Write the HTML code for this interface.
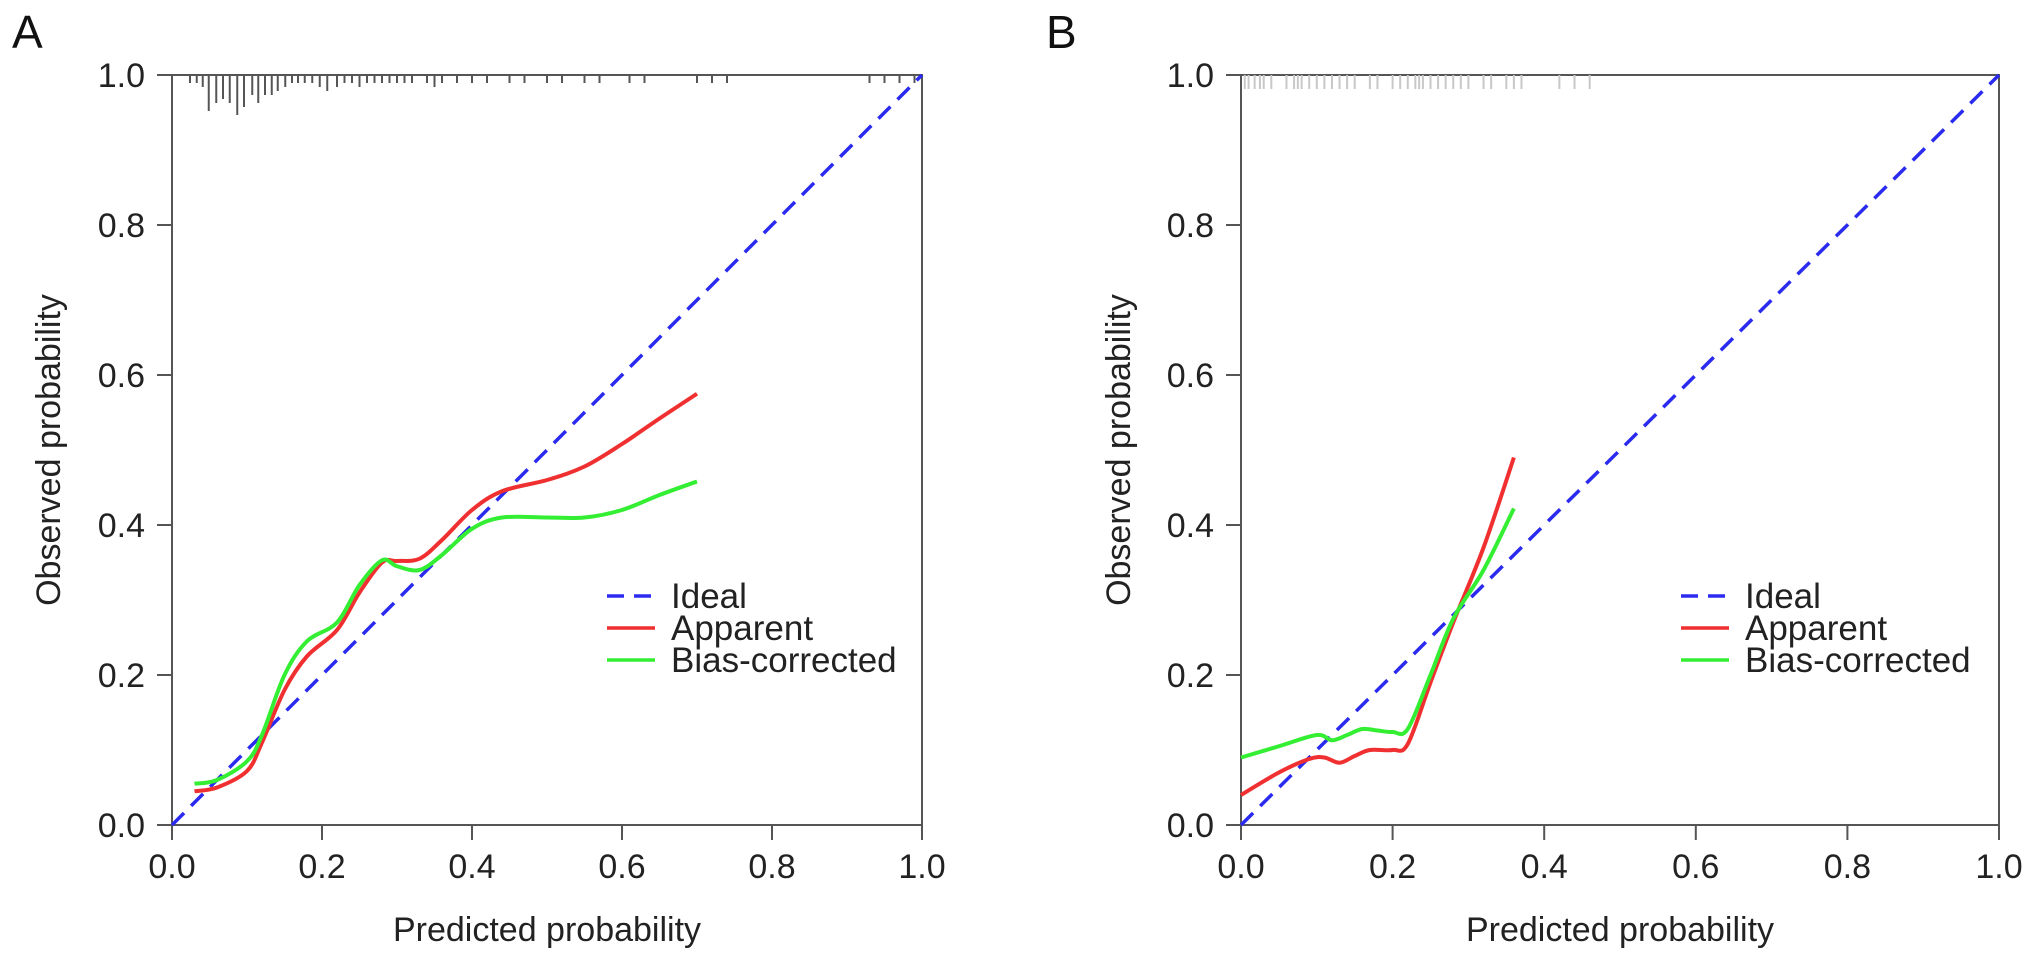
<!DOCTYPE html>
<html><head><meta charset="utf-8"><style>
html,body{margin:0;padding:0;background:#fff;}
svg{display:block;font-family:"Liberation Sans",Arial,sans-serif;}
</style></head><body>
<svg id="chart" width="2032" height="961" viewBox="0 0 2032 961" xmlns="http://www.w3.org/2000/svg"></svg>
<script>
// ---- data ----
const ticks = [0, 0.2, 0.4, 0.6, 0.8, 1.0];
const tickLabels = ["0.0", "0.2", "0.4", "0.6", "0.8", "1.0"];
const aApparentX = [0.03,0.06,0.1,0.12,0.15,0.18,0.22,0.25,0.28,0.3,0.33,0.36,0.4,0.44,0.5,0.55,0.6,0.65,0.7];
const aApparentY = [0.045,0.05,0.072,0.11,0.18,0.225,0.26,0.31,0.35,0.352,0.355,0.38,0.42,0.445,0.46,0.478,0.508,0.542,0.575];
const aBiasX = [0.03,0.06,0.1,0.12,0.15,0.18,0.22,0.25,0.28,0.3,0.33,0.36,0.4,0.44,0.5,0.55,0.6,0.65,0.7];
const aBiasY = [0.055,0.06,0.085,0.12,0.2,0.245,0.27,0.32,0.353,0.345,0.34,0.36,0.395,0.41,0.41,0.41,0.42,0.44,0.458];
const bApparentX = [0,0.05,0.09,0.11,0.13,0.15,0.17,0.2,0.22,0.25,0.28,0.32,0.36];
const bApparentY = [0.04,0.07,0.088,0.09,0.083,0.092,0.1,0.1,0.108,0.19,0.27,0.37,0.49];
const bBiasX = [0,0.05,0.1,0.12,0.14,0.16,0.18,0.2,0.22,0.25,0.28,0.32,0.36];
const bBiasY = [0.09,0.105,0.12,0.113,0.12,0.128,0.126,0.124,0.128,0.2,0.275,0.34,0.422];
const aRugX = [0.024,0.033,0.041,0.049,0.059,0.068,0.077,0.087,0.096,0.107,0.115,0.124,0.133,0.141,0.151,0.16,0.168,0.177,0.187,0.197,0.207,0.22,0.23,0.24,0.25,0.26,0.27,0.28,0.29,0.3,0.31,0.32,0.34,0.35,0.36,0.38,0.4,0.42,0.45,0.47,0.5,0.52,0.55,0.57,0.61,0.63,0.7,0.72,0.74,0.93,0.95,0.97,0.99];
const aRugN = [1,1,2,8,6,5,6,9,7,4,6,4,4,3,2,1,1,1,1,2,3,2,1,1,2,1,1,1,1,1,1,1,1,2,1,1,1,1,1,1,1,1,1,1,1,1,1,1,1,1,1,1,1];
const bRugX = [0.005,0.01,0.018,0.025,0.03,0.04,0.06,0.07,0.075,0.08,0.09,0.1,0.11,0.12,0.13,0.14,0.15,0.17,0.18,0.2,0.21,0.22,0.23,0.235,0.24,0.25,0.26,0.27,0.28,0.29,0.3,0.32,0.33,0.35,0.36,0.37,0.42,0.44,0.46];

const NS = "http://www.w3.org/2000/svg";
const svg = document.getElementById("chart");
function mk(tag, attrs, parent) {
  const e = document.createElementNS(NS, tag);
  for (const k in attrs) e.setAttribute(k, attrs[k]);
  (parent || svg).appendChild(e);
  return e;
}
function smoothPath(xs, ys, sx, sy) {
  const p = xs.map((x, i) => [sx(x), sy(ys[i])]);
  let d = "M" + p[0][0] + "," + p[0][1];
  for (let i = 0; i < p.length - 1; i++) {
    const p0 = p[i - 1] || p[i], p1 = p[i], p2 = p[i + 1], p3 = p[i + 2] || p2;
    const c1x = p1[0] + (p2[0] - p0[0]) / 6, c1y = p1[1] + (p2[1] - p0[1]) / 6;
    const c2x = p2[0] - (p3[0] - p1[0]) / 6, c2y = p2[1] - (p3[1] - p1[1]) / 6;
    d += " C" + c1x + "," + c1y + " " + c2x + "," + c2y + " " + p2[0] + "," + p2[1];
  }
  return d;
}

function panel(cfg) {
  const g = mk("g", {});
  
  
  const sx = v => cfg.x0 + v * (cfg.x1 - cfg.x0);
  const sy = v => cfg.y0 - v * (cfg.y0 - cfg.y1);
  const box = mk("rect", {x: cfg.x0, y: cfg.y1, width: cfg.x1 - cfg.x0, height: cfg.y0 - cfg.y1, fill: "none", stroke: "#555", "stroke-width": 2}, g);
  
  
  ticks.forEach((t, i) => {
    const xt = mk("line", {x1: sx(t), x2: sx(t), y1: cfg.y0, y2: cfg.y0 + 15, stroke: "#555", "stroke-width": 2}, g);
    
    
    const xl = mk("text", {x: sx(t), y: cfg.y0 + 53, "text-anchor": "middle", "font-size": 34, fill: "#222"}, g);
    xl.textContent = tickLabels[i];
    
    
    const yt = mk("line", {x1: cfg.x0 - 15, x2: cfg.x0, y1: sy(t), y2: sy(t), stroke: "#555", "stroke-width": 2}, g);
    
    
    const yl = mk("text", {x: cfg.x0 - 27, y: sy(t) + 12, "text-anchor": "end", "font-size": 34, fill: "#222"}, g);
    yl.textContent = tickLabels[i];
    
    
  });
  const xt = mk("text", {x: (cfg.x0 + cfg.x1) / 2, y: 941, "text-anchor": "middle", "font-size": 34, fill: "#222"}, g);
  xt.textContent = "Predicted probability";
  
  
  const cy = (cfg.y0 + cfg.y1) / 2;
  const yt = mk("text", {x: cfg.ytx, y: cy, "text-anchor": "middle", "font-size": 34, fill: "#222", transform: "rotate(-90 " + cfg.ytx + " " + cy + ")"}, g);
  yt.textContent = "Observed probability";
  
  
  const lt = mk("text", {x: cfg.letterX, y: 48, "font-size": 46, fill: "#111"}, g);
  lt.textContent = cfg.letter;
  
  
  cfg.rugX.forEach((v, i) => {
    const len = cfg.rugN ? 4 + cfg.rugN[i] * 4 : 14;
    const r = mk("line", {x1: sx(v), x2: sx(v), y1: cfg.y1, y2: cfg.y1 + len, stroke: cfg.rugColor, "stroke-width": 2}, g);
    
    
  });
  const id = mk("line", {x1: sx(0), y1: sy(0), x2: sx(1), y2: sy(1), stroke: "#2b2bf0", "stroke-width": 3.5, "stroke-dasharray": "17 10"}, g);
  
  
  const ap = mk("path", {d: smoothPath(cfg.apX, cfg.apY, sx, sy), fill: "none", stroke: "#f03030", "stroke-width": 4}, g);
  
  
  const bc = mk("path", {d: smoothPath(cfg.bcX, cfg.bcY, sx, sy), fill: "none", stroke: "#33ee33", "stroke-width": 4}, g);
  
  
  const lg = mk("g", {}, g);
  
  
  const items = [["Ideal", "#2b2bf0", "17 10"], ["Apparent", "#f03030", ""], ["Bias-corrected", "#33ee33", ""]];
  items.forEach((it, i) => {
    const yy = 596 + i * 32;
    const l = mk("line", {x1: cfg.legX, x2: cfg.legX + 48, y1: yy, y2: yy, stroke: it[1], "stroke-width": 3.5, "stroke-dasharray": it[2] || "none"}, lg);
    
    
    const t = mk("text", {x: cfg.legX + 64, y: yy + 12, "font-size": 35, fill: "#222"}, lg);
    t.textContent = it[0];
    
    
  });
}

panel({name: "panel-a", letter: "A", letterX: 12, x0: 172, x1: 922, y0: 825, y1: 75, ytx: 60, legX: 607,
  rugX: aRugX, rugN: aRugN, rugColor: "#555", apX: aApparentX, apY: aApparentY, bcX: aBiasX, bcY: aBiasY});
panel({name: "panel-b", letter: "B", letterX: 1046, x0: 1241, x1: 1999, y0: 825, y1: 75, ytx: 1130, legX: 1681,
  rugX: bRugX, rugN: null, rugColor: "#c8c8c8", apX: bApparentX, apY: bApparentY, bcX: bBiasX, bcY: bBiasY});
</script>
</body></html>
